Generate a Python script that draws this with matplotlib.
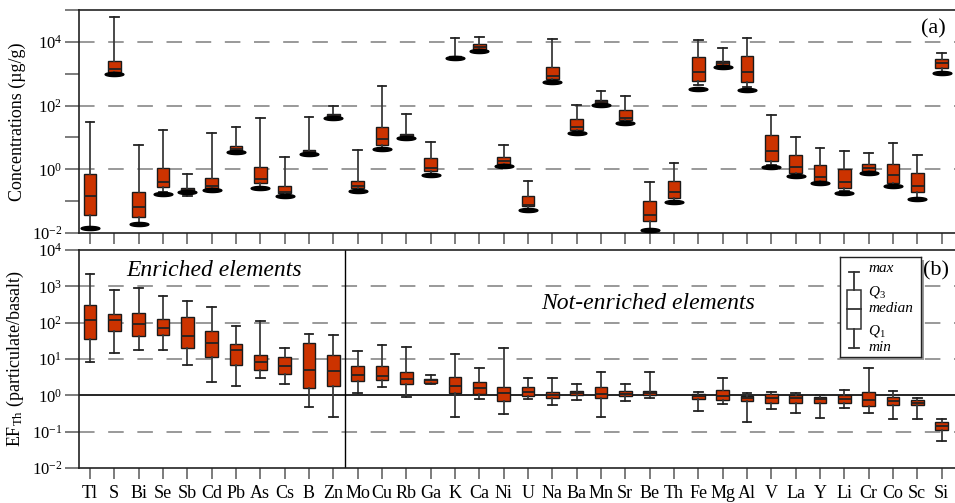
import numpy as np
import matplotlib
matplotlib.use("Agg")
import matplotlib.pyplot as plt
from matplotlib.path import Path
from matplotlib.patches import Rectangle
from matplotlib.ticker import FixedLocator, NullLocator

plt.rcParams['font.family'] = ['Liberation Serif', 'DejaVu Serif']
plt.rcParams['mathtext.fontset'] = 'custom'
plt.rcParams['mathtext.rm'] = 'Liberation Serif'
plt.rcParams['mathtext.it'] = 'Liberation Serif:italic'
plt.rcParams['mathtext.bf'] = 'Liberation Serif:bold'

elements = ['Tl', 'S', 'Bi', 'Se', 'Sb', 'Cd', 'Pb', 'As', 'Cs', 'B', 'Zn', 'Mo', 'Cu', 'Rb', 'Ga', 'K',
            'Ca', 'Ni', 'U', 'Na', 'Ba', 'Mn', 'Sr', 'Be', 'Th', 'Fe', 'Mg', 'Al', 'V', 'La', 'Y', 'Li',
            'Cr', 'Co', 'Sc', 'Si']

# Panel (a): concentrations (ug/g)
conc_max = [30, 59000, 5.8, 17, 0.73, 13.3, 22, 40, 2.5, 43, 96, 4.0, 400, 56, 7.1, 13600, 14000, 5.8,
            0.43, 12700, 105, 290, 206, 0.40, 1.6, 11600, 6200, 13600, 51, 10.5, 4.6, 3.8, 3.3, 6.6, 2.9, 4500]
conc_q3 = [0.73, 2570, 0.19, 1.13, 0.26, 0.52, 5.2, 1.2, 0.29, 4.1, 53, 0.42, 22, 12.7, 2.3, 3600, 8300, 2.5,
           0.14, 1620, 37, 155, 71, 0.10, 0.44, 3300, 2550, 3560, 12, 2.9, 1.33, 1.02, 1.5, 1.5, 0.77, 2950]
conc_med = [0.15, 1430, 0.064, 0.41, 0.23, 0.30, 4.3, 0.49, 0.19, 3.6, 49, 0.30, 8.7, 11.8, 1.1, 3400, 6800, 1.8,
            0.077, 850, 21, 130, 41, 0.037, 0.19, 1130, 2150, 1150, 3.7, 1.17, 0.58, 0.40, 1.07, 0.65, 0.30, 2100]
conc_q1 = [0.036, 1170, 0.032, 0.27, 0.19, 0.25, 3.7, 0.36, 0.18, 3.2, 47, 0.25, 5.8, 10.7, 0.89, 3300, 6000, 1.5,
           0.068, 680, 17, 113, 35, 0.023, 0.13, 575, 1900, 535, 1.8, 0.79, 0.42, 0.26, 0.89, 0.38, 0.19, 1500]
conc_min = [0.014, 1000, 0.019, 0.20, 0.15, 0.22, 3.4, 0.26, 0.15, 3.0, 42, 0.21, 4.8, 9.8, 0.66, 3200, 5300, 1.27,
            0.052, 560, 14, 103, 29, 0.0126, 0.093, 450, 1650, 385, 1.4, 0.61, 0.37, 0.21, 0.74, 0.30, 0.12, 1020]
basalt = [0.014, 1000, 0.019, 0.17, 0.19, 0.22, 3.4, 0.26, 0.15, 3.0, 42, 0.21, 4.2, 9.8, 0.66, 3200, 5300, 1.27,
          0.052, 560, 14, 103, 29, 0.0126, 0.093, 340, 1650, 316, 1.17, 0.61, 0.37, 0.18, 0.74, 0.30, 0.12, 1020]

nan = np.nan
# Panel (b): enrichment factors EF_Th (Th itself has no box)
ef_max = [2250, 790, 890, 550, 390, 277, 80, 110, 20, 50, 47, 17, 24, 21, 3.7, 13.5, 5.6, 19.5, 2.95, 2.95,
          2.1, 4.3, 2.1, 4.3, nan, 1.23, 2.95, 1.13, 1.26, 1.17, 1.05, 1.44, 5.6, 1.3, 0.82, 0.23]
ef_q3 = [300, 170, 190, 125, 142, 60, 26, 13, 11.2, 28, 12.8, 6.3, 6.6, 4.4, 2.8, 3.2, 2.3, 1.66, 1.66, 1.2,
         1.3, 1.72, 1.3, 1.3, nan, 1.08, 1.39, 0.93, 1.1, 1.0, 0.91, 1.05, 1.2, 0.89, 0.74, 0.18]
ef_med = [117, 117, 93, 71, 43, 27.5, 18, 8.3, 6.3, 5.0, 4.6, 3.6, 3.4, 2.85, 2.6, 1.86, 1.56, 1.15, 1.26, 1.05,
          1.15, 1.1, 1.1, 1.15, nan, 0.93, 0.98, 0.82, 0.82, 0.82, 0.78, 0.78, 0.73, 0.69, 0.63, 0.14]
ef_q1 = [35, 60, 43, 46, 20, 11, 6.9, 5.0, 3.8, 1.6, 1.8, 2.5, 2.7, 2.0, 2.25, 1.15, 1.1, 0.69, 0.98, 0.87,
         1.02, 0.87, 0.96, 1.02, nan, 0.79, 0.74, 0.69, 0.63, 0.62, 0.63, 0.62, 0.52, 0.53, 0.55, 0.108]
ef_min = [8.1, 14.5, 18, 18, 6.8, 2.4, 1.8, 3.0, 2.0, 0.47, 0.26, 1.17, 1.75, 0.91, 2.1, 0.26, 0.80, 0.30, 0.78,
          0.53, 0.73, 0.25, 0.69, 0.85, nan, 0.37, 0.58, 0.18, 0.42, 0.32, 0.24, 0.45, 0.32, 0.23, 0.23, 0.056]

BOX_COLOR = '#CC3300'
W, H = 955, 503
fig = plt.figure(figsize=(W / 100, H / 100), dpi=100)

def fx(px):
    return px / W

def fy(py):
    return 1 - py / H

left = fx(79)
ax_a = fig.add_axes([left, fy(233), 1.0 - left, fy(10) - fy(233)])
ax_b = fig.add_axes([left, fy(468), 1.0 - left, fy(250) - fy(468)])

def make_stats(mx, q3, md, q1, mn):
    stats, pos = [], []
    for i in range(len(elements)):
        if np.isnan(md[i]):
            continue
        stats.append(dict(med=md[i], q1=q1[i], q3=q3[i], whislo=mn[i], whishi=mx[i], fliers=[]))
        pos.append(i)
    return stats, pos

bx_kw = dict(widths=0.52, capwidths=0.36, patch_artist=True, showfliers=False,
             boxprops=dict(facecolor=BOX_COLOR, edgecolor='#1a1a1a', linewidth=1.0),
             medianprops=dict(color='#222222', linewidth=1.3),
             whiskerprops=dict(color='#3a3a3a', linewidth=1.3),
             capprops=dict(color='#222222', linewidth=1.3))

xs = np.arange(len(elements))
xlim = (-0.45, 35.55)

# ---- Panel (a)
st, pos = make_stats(conc_max, conc_q3, conc_med, conc_q1, conc_min)
ax_a.set_yscale('log')
ax_a.set_ylim(1e-2, 1e5)
for v in [1e0, 1e2, 1e4]:
    ax_a.axhline(v, color='#999999', lw=1.4, dashes=(8, 7), zorder=0)
ax_a.bxp(st, positions=pos, **bx_kw)
t = np.linspace(0, 2 * np.pi, 60)
ell = Path(np.column_stack([np.cos(t), 0.22 * np.sin(t)]), closed=True)
ax_a.plot(xs, basalt, linestyle='none', marker=ell, markersize=13.5, color='black', zorder=5)
ax_a.yaxis.set_major_locator(FixedLocator([1e-2, 1e-1, 1e0, 1e1, 1e2, 1e3, 1e4, 1e5]))
ax_a.yaxis.set_minor_locator(NullLocator())
ax_a.set_yticklabels([r'$\mathrm{10}^{-2}$', '', r'$\mathrm{10}^{0}$', '', r'$\mathrm{10}^{2}$', '',
                      r'$\mathrm{10}^{4}$', ''])
ax_a.set_ylabel('Concentrations (µg/g)', fontsize=13, labelpad=4)
ax_a.text(0.99, 0.915, '(a)', transform=ax_a.transAxes, ha='right', va='center', fontsize=16)

# ---- Panel (b)
st, pos = make_stats(ef_max, ef_q3, ef_med, ef_q1, ef_min)
ax_b.set_yscale('log')
ax_b.set_ylim(1e-2, 1e4)
for v in [1e-1, 1e1, 1e2, 1e3]:
    ax_b.axhline(v, color='#999999', lw=1.4, dashes=(8, 7), zorder=0)
ax_b.axhline(1.0, color='black', lw=1.2, zorder=1)
ax_b.axvline(10.5, color='black', lw=1.0, zorder=1)
ax_b.bxp(st, positions=pos, **bx_kw)
ax_b.yaxis.set_major_locator(FixedLocator([1e-2, 1e-1, 1e0, 1e1, 1e2, 1e3, 1e4]))
ax_b.yaxis.set_minor_locator(NullLocator())
ax_b.set_yticklabels([r'$\mathrm{10}^{-2}$', r'$\mathrm{10}^{-1}$', r'$\mathrm{10}^{0}$', r'$\mathrm{10}^{1}$',
                      r'$\mathrm{10}^{2}$', r'$\mathrm{10}^{3}$', r'$\mathrm{10}^{4}$'])
ax_b.set_ylabel(r'EF$_{\mathrm{Th}}$ (particulate/basalt)', fontsize=13, labelpad=4)
ax_b.text(0.154, 0.905, 'Enriched elements', transform=ax_b.transAxes, ha='center', va='center',
          fontsize=17, fontfamily='Liberation Serif', fontstyle='italic')
ax_b.text(0.65, 0.755, 'Not-enriched elements', transform=ax_b.transAxes, ha='center', va='center',
          fontsize=17, fontfamily='Liberation Serif', fontstyle='italic')
ax_b.text(0.993, 0.905, '(b)', transform=ax_b.transAxes, ha='right', va='center', fontsize=16)

for ax in (ax_a, ax_b):
    ax.set_xlim(*xlim)
    ax.set_xticks(xs)
    for s in ax.spines.values():
        s.set_linewidth(1.2)
        s.set_color('#222222')
    ax.spines['right'].set_visible(False)
    ax.tick_params(axis='y', direction='out', length=10, width=1.2, color='#666666', labelsize=12, pad=2)
    ax.tick_params(axis='x', direction='out', length=8, width=1.2, color='#666666', pad=4)
ax_a.set_xticklabels([])
ax_b.set_xticklabels(elements, fontsize=13)
fig.align_ylabels([ax_a, ax_b])

# ---- Legend inset
lx0, ly0, lx1, ly1 = 840, 257, 921, 357
fig.patches.append(Rectangle((fx(lx0 + 3), fy(ly1 + 3)), fx(lx1 - lx0), fy(ly0) - fy(ly1),
                             transform=fig.transFigure, facecolor='#9a9a9a', edgecolor='none', zorder=3))
lax = fig.add_axes([fx(lx0), fy(ly1), fx(lx1 - lx0), fy(ly0) - fy(ly1)], zorder=4)
lax.set_xlim(lx0, lx1)
lax.set_ylim(ly1, ly0)
lax.set_xticks([])
lax.set_yticks([])
for s in lax.spines.values():
    s.set_linewidth(1.0)
    s.set_color('#222222')
cx, bw = 854, 7
lax.plot([cx, cx], [272, 290], color='#333333', lw=1.3)
lax.plot([cx, cx], [329, 348], color='#333333', lw=1.3)
lax.plot([cx - 5, cx + 5], [272, 272], color='#333333', lw=1.3)
lax.plot([cx - 5, cx + 5], [348, 348], color='#333333', lw=1.3)
lax.add_patch(Rectangle((cx - bw, 290), 2 * bw, 39, facecolor='white', edgecolor='#333333', lw=1.1))
lax.plot([cx - bw, cx + bw], [309, 309], color='#333333', lw=1.3)
for txt, yy in [('max', 269), (r'$Q_3$', 292), ('median', 309), (r'$Q_1$', 331), ('min', 348)]:
    lax.text(868, yy, txt, fontsize=11, fontstyle='italic', ha='left', va='center')

fig.savefig('out.png', dpi=100)
